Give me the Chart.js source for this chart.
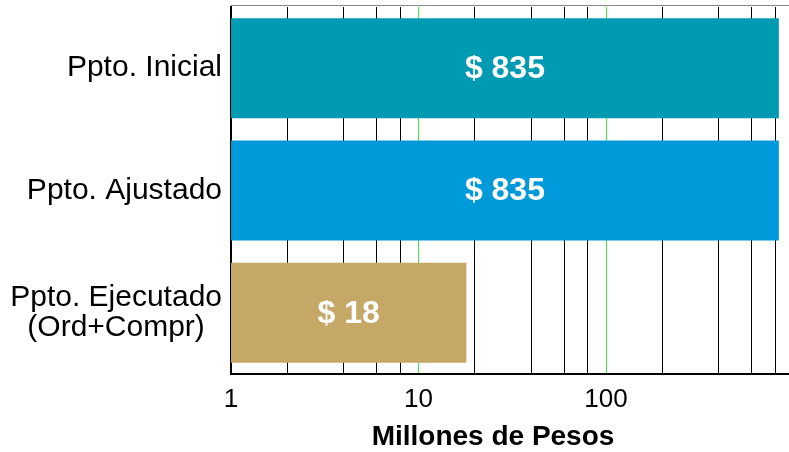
<!DOCTYPE html>
<html>
<head>
<meta charset="utf-8">
<script src="https://cdn.jsdelivr.net/npm/chart.js@4.4.1/dist/chart.umd.min.js"></script>
<style>
  html, body { margin: 0; padding: 0; background: #fff; }
  #wrap { width: 789px; height: 452px; }
</style>
</head>
<body>
<div id="wrap"><canvas id="presupuesto-chart"></canvas></div>
<script>
// Datos del grafico
const categories = ['Ppto. Inicial', 'Ppto. Ajustado', ['Ppto. Ejecutado', '(Ord+Compr)']];
const values = [835, 835, 18];
const tickLabels = [1, 10, 100];
const gridValues = [1, 2, 4, 6, 8, 10, 20, 40, 60, 80, 100, 200, 400, 600, 800];
const axisTitle = 'Millones de Pesos';

const barColors = ['#009AB2', '#009ADB', '#C5A766'];
const FONT = '"Liberation Sans", Arial, sans-serif';

Chart.defaults.font.family = FONT;
Chart.defaults.color = '#000';

// Etiquetas de valor dentro de las barras
const valueLabels = {
    id: 'valueLabels',
    afterDatasetsDraw(chart) {
        const ctx = chart.ctx;
        const meta = chart.getDatasetMeta(0);
        ctx.save();
        ctx.fillStyle = '#fff';
        ctx.font = 'bold 32px ' + FONT;
        ctx.textAlign = 'center';
        ctx.textBaseline = 'middle';
        meta.data.forEach((bar, i) => {
            ctx.fillText('$ ' + values[i], (bar.x + bar.base) / 2, bar.y + 1);
        });
        ctx.restore();
    }
};

// Etiquetas de categoria: bloque alineado a la derecha, lineas centradas
const categoryLabels = {
    id: 'categoryLabels',
    afterDraw(chart) {
        const { ctx } = chart;
        const yScale = chart.scales.y;
        const right = chart.chartArea.left - 9;
        ctx.save();
        ctx.fillStyle = '#000';
        ctx.font = '30px ' + FONT;
        ctx.textAlign = 'center';
        ctx.textBaseline = 'middle';
        categories.forEach((label, i) => {
            const lines = Array.isArray(label) ? label : [label];
            const w = Math.max(...lines.map(l => ctx.measureText(l).width));
            const cx = right - w / 2;
            const y0 = yScale.getPixelForTick(i) - (lines.length - 1) * 30 / 2;
            lines.forEach((l, j) => ctx.fillText(l, cx, y0 + j * 30));
        });
        ctx.restore();
    }
};

// Linea superior del area
const topBorder = {
    id: 'topBorder',
    beforeDatasetsDraw(chart) {
        const { ctx, chartArea: a } = chart;
        ctx.save();
        ctx.strokeStyle = '#888';
        ctx.lineWidth = 1;
        ctx.beginPath();
        ctx.moveTo(a.left, a.top - 1.5);
        ctx.lineTo(a.right, a.top - 1.5);
        ctx.stroke();
        ctx.restore();
    }
};

// Titulo del eje x (un poco a la izquierda del centro)
const xTitle = {
    id: 'xTitle',
    afterDraw(chart) {
        const { ctx, chartArea: a } = chart;
        ctx.save();
        ctx.fillStyle = '#000';
        ctx.font = 'bold 28px ' + FONT;
        ctx.textAlign = 'center';
        ctx.textBaseline = 'middle';
        ctx.fillText(axisTitle, (a.left + a.right) / 2 - 17, a.bottom + 63);
        ctx.restore();
    }
};

const noPad = scale => {
    scale.paddingTop = 0;
    scale.paddingBottom = 0;
    scale.paddingLeft = 0;
    scale.paddingRight = 0;
};

const ctx = document.getElementById('presupuesto-chart').getContext('2d');

new Chart(ctx, {
    type: 'bar',
    data: {
        labels: categories,
        datasets: [{
            data: values,
            backgroundColor: barColors,
            borderWidth: 0,
            barPercentage: 0.817,
            categoryPercentage: 1
        }]
    },
    options: {
        indexAxis: 'y',
        responsive: true,
        maintainAspectRatio: false,
        animation: false,
        layout: { padding: { top: 7, right: 0, left: 0, bottom: 0 } },
        plugins: {
            legend: { display: false },
            tooltip: { enabled: false }
        },
        scales: {
            x: {
                type: 'logarithmic',
                min: 1,
                max: 946,
                afterBuildTicks: scale => {
                    scale.ticks = gridValues.map(v => ({ value: v }));
                },
                afterFit: scale => { scale.height = 78; noPad(scale); },
                grid: {
                    drawTicks: false,
                    lineWidth: 1,
                    color: c => (c.tick && (c.tick.value === 10 || c.tick.value === 100)) ? '#3ee63e' : '#000'
                },
                border: { display: true, color: '#000', width: 2 },
                ticks: {
                    autoSkip: false,
                    maxRotation: 0,
                    padding: 10,
                    font: { size: 26 },
                    callback: v => tickLabels.includes(v) ? String(v) : ''
                }
            },
            y: {
                grid: { display: false, drawTicks: false },
                border: { display: true, color: '#000', width: 2 },
                afterFit: scale => { scale.width = 231; noPad(scale); },
                ticks: {
                    display: false
                }
            }
        }
    },
    plugins: [topBorder, valueLabels, categoryLabels, xTitle]
});
</script>
</body>
</html>
